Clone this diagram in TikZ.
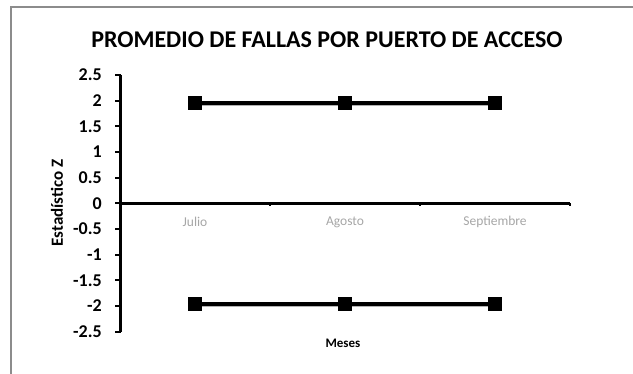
\documentclass[tikz,border=0pt]{standalone}
\usepackage{fontspec}
\setmainfont{Carlito}
\usetikzlibrary{backgrounds}
\definecolor{framegray}{HTML}{8C8C8C}
\definecolor{labgray}{HTML}{A6A6A6}
\tikzset{
  mk/.style={rectangle, fill=black, inner sep=0pt, minimum size=14pt},
  serie/.style={line width=3.8pt, black},
  shadowline/.style={line width=3.8pt, black!30},
  axisline/.style={line width=2.5pt, black},
  tickline/.style={line width=2pt, black},
  ylab/.style={anchor=east, font=\bfseries\fontsize{18}{20}\selectfont, inner sep=0pt},
  xlab/.style={font=\fontsize{13.5}{15}\selectfont, text=labgray, inner sep=0pt},
}
\begin{document}
\begin{tikzpicture}[x=1pt, y=-1pt]
\useasboundingbox (0,0) rectangle (633,374);
% frame
\draw[framegray, line width=1.6pt] (10.8,374) -- (10.8,6.8) -- (633,6.8);
% title
\node[font=\bfseries\fontsize{24}{26}\selectfont, inner sep=0pt] (title) at (327,40) {PROMEDIO DE FALLAS POR PUERTO DE ACCESO};
% axes
\coordinate (ytop) at (120.5,75);
\coordinate (ybot) at (120.5,331.7);
\coordinate (xl) at (120.5,203.3);
\coordinate (xr) at (570,203.3);
\draw[axisline] (ytop) -- (ybot);
\draw[axisline] (xl) -- (xr);
% y ticks and labels
\foreach \v/\t in {2.5/2.5, 2/2, 1.5/1.5, 1/1, 0.5/0.5, 0/0, -0.5/-0.5, -1/-1, -1.5/-1.5, -2/-2, -2.5/-2.5}{
  \draw[tickline] (115,{203.3-51.33*\v}) -- (120.5,{203.3-51.33*\v});
  \node[ylab] at (102,{203.3-51.33*\v}) {\t};
}
% x ticks
\foreach \x in {270,420,570}{
  \draw[tickline] (\x,203.3) -- (\x,206.3);
}
% category labels
\node[xlab] (jul) at (195,222) {Julio};
\node[xlab] (ago) at (345,222) {Agosto};
\node[xlab] (sep) at (495,222) {Septiembre};
% axis titles
\node[font=\bfseries\fontsize{17}{19}\selectfont, rotate=90, inner sep=0pt] (ytit) at (57,203) {Estadístico Z};
\node[font=\bfseries\fontsize{13}{15}\selectfont, inner sep=0pt] (xtit) at (343,343) {Meses};
% series
\node[mk] (u1) at (195,102.7) {};
\node[mk] (u2) at (345,102.7) {};
\node[mk] (u3) at (495,102.7) {};
\node[mk] (l1) at (195,303.9) {};
\node[mk] (l2) at (345,303.9) {};
\node[mk] (l3) at (495,303.9) {};
\begin{pgfonlayer}{background}
\draw[shadowline] ([yshift=-1pt]u1.center) -- ([yshift=-1pt]u2.center) -- ([yshift=-1pt]u3.center);
\draw[shadowline] ([yshift=-1pt]l1.center) -- ([yshift=-1pt]l2.center) -- ([yshift=-1pt]l3.center);
\draw[serie] (u1.center) -- (u2.center) -- (u3.center);
\draw[serie] (l1.center) -- (l2.center) -- (l3.center);
\end{pgfonlayer}
\end{tikzpicture}
\end{document}
